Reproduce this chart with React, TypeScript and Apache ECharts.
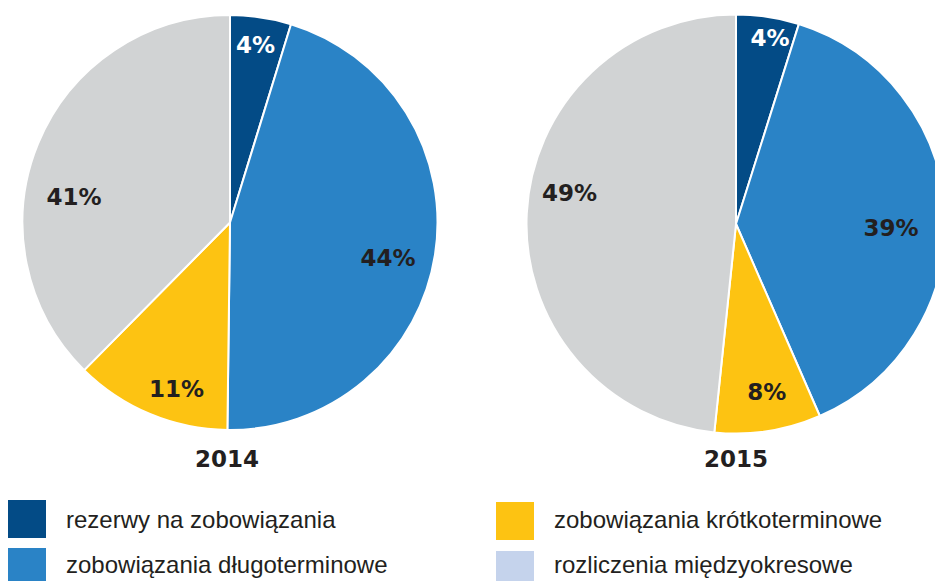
import React, { useEffect, useRef } from "react";
import * as echarts from "echarts";

// Category names (slice order, clockwise from 12 o'clock)
const CATEGORIES = [
  "rezerwy na zobowiązania",
  "zobowiązania długoterminowe",
  "zobowiązania krótkoterminowe",
  "kapitał własny",
  "rozliczenia międzyokresowe",
];
const COLORS = ["#034b86", "#2a83c6", "#fdc312", "#d1d3d4", "#c5d3ec"];

// Slice sizes as drawn in the picture (share of the circle, %)
const VALUES_2014 = [4.75, 45.45, 12.2, 37.6, 0];
const VALUES_2015 = [4.85, 38.6, 8.2, 48.35, 0];

// Printed percentage labels
const LABELS_2014 = ["4%", "44%", "11%", "41%", ""];
const LABELS_2015 = ["4%", "39%", "8%", "49%", ""];

const YEARS = ["2014", "2015"];

// Legend entries (in reading order: left column, then right column)
const LEGEND_ITEMS = [
  "rezerwy na zobowiązania",
  "zobowiązania długoterminowe",
  "zobowiązania krótkoterminowe",
  "rozliczenia międzyokresowe",
];
// Legend placement: [left, top, upward text shift]
const LEGEND_POS = [
  [8, 500, 0],
  [8, 548, 3],
  [496, 502, 2],
  [496, 551, 6],
];

// Label placement: [radius fraction, angle clockwise from top (deg)]
const LABEL_POS_2014 = [
  [0.864, 8.2],
  [0.78, 102.5],
  [0.842, 197.8],
  [0.762, 279.4],
];
const LABEL_POS_2015 = [
  [0.901, 10.4],
  [0.74, 91.3],
  [0.814, 169.6],
  [0.808, 280.4],
];

const LABEL_FONT = "DejaVu Sans";
const TEXT_DARK = "#231f20";

function makePie(
  values: number[],
  labels: string[],
  pos: number[][],
  cx: number,
  cy: number,
  r: number
) {
  return {
    type: "pie",
    center: [cx, cy],
    radius: [0, r],
    startAngle: 90,
    clockwise: true,
    avoidLabelOverlap: false,
    silent: true,
    itemStyle: { borderColor: "#ffffff", borderWidth: 2 },
    label: {
      show: true,
      position: "inside",
      fontFamily: LABEL_FONT,
      fontWeight: "bold",
      fontSize: 23,
      color: TEXT_DARK,
      formatter: (p: any) => labels[p.dataIndex],
    },
    labelLine: { show: false },
    labelLayout: (params: any) => {
      const pp = pos[params.dataIndex];
      if (!pp) return {};
      const a = (pp[1] * Math.PI) / 180;
      return {
        x: cx + pp[0] * r * Math.sin(a),
        y: cy - pp[0] * r * Math.cos(a),
        align: "center",
        verticalAlign: "middle",
      };
    },
    data: CATEGORIES.map((name, i) => ({
      name,
      value: values[i],
      itemStyle: {
        color: COLORS[i],
        borderWidth: values[i] === 0 ? 0 : 2,
      },
      label: {
        show: values[i] !== 0,
        color: i === 0 ? "#ffffff" : TEXT_DARK,
      },
    })),
  };
}

export default function App() {
  const ref = useRef<HTMLDivElement>(null);

  useEffect(() => {
    if (!ref.current) return;
    const chart = echarts.init(ref.current, undefined, { renderer: "svg" });
    const legends = LEGEND_ITEMS.map((name, i) => {
      const shift = LEGEND_POS[i][2];
      return {
        orient: "vertical",
        icon: "rect",
        itemWidth: 38,
        itemHeight: 38,
        selectedMode: false,
        padding: 0,
        width: 420,
        height: 60,
        left: LEGEND_POS[i][0],
        top: LEGEND_POS[i][1],
        itemStyle: { borderWidth: 0 },
        data: [name],
        // an empty second line lifts the text by half a line height
        formatter: (n: string) => (shift > 0 ? n + "\n" : n),
        textStyle: {
          fontFamily: "Liberation Sans",
          fontSize: 24,
          color: TEXT_DARK,
          lineHeight: shift > 0 ? shift * 2 : 28,
          padding: [0, 0, 0, 15],
        },
      };
    });
    chart.setOption({
      animation: false,
      backgroundColor: "#ffffff",
      title: [
        {
          text: YEARS[0],
          left: 227,
          top: 447,
          textAlign: "center",
          padding: 0,
          textStyle: { fontFamily: LABEL_FONT, fontWeight: "bold", fontSize: 23, color: TEXT_DARK },
        },
        {
          text: YEARS[1],
          left: 736,
          top: 447,
          textAlign: "center",
          padding: 0,
          textStyle: { fontFamily: LABEL_FONT, fontWeight: "bold", fontSize: 23, color: TEXT_DARK },
        },
      ],
      legend: legends,
      series: [
        makePie(VALUES_2014, LABELS_2014, LABEL_POS_2014, 230, 222.5, 207.5),
        makePie(VALUES_2015, LABELS_2015, LABEL_POS_2015, 736, 224, 209.5),
      ],
    });
    return () => chart.dispose();
  }, []);

  return (
    <div
      ref={ref}
      style={{ position: "absolute", left: 0, top: 0, width: 935, height: 581 }}
    />
  );
}
